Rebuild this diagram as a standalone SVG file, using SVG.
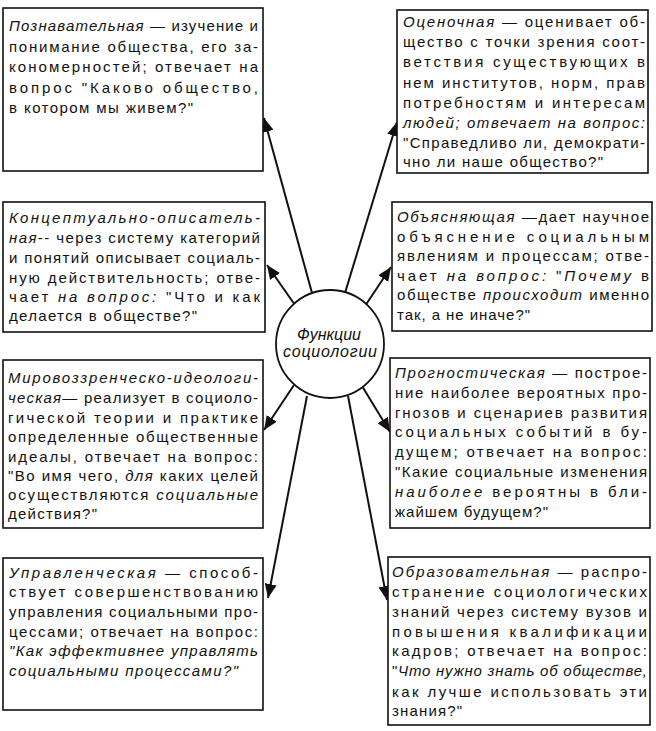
<svg xmlns="http://www.w3.org/2000/svg" width="656" height="731" viewBox="0 0 656 731">
<style>
.box{fill:#fff;stroke:#111;stroke-width:1.6}
.t{font-family:"Liberation Sans",Arial,sans-serif;font-size:15px;fill:#111}
.i{font-style:italic}
.c{font-family:"Liberation Sans",Arial,sans-serif;font-size:16px;font-style:italic;fill:#111;text-anchor:middle}
.arr{stroke:#111;stroke-width:2;fill:none;marker-end:url(#ah)}
</style>
<defs>
<marker id="ah" markerUnits="userSpaceOnUse" markerWidth="16" markerHeight="12" refX="14" refY="6" orient="auto">
<path d="M0,0 L14,6 L0,12 Z" fill="#111"/>
</marker>
</defs>
<rect width="656" height="731" fill="#fff"/>

<g id="connectors">
<line class="arr" x1="312" y1="293" x2="264" y2="118"/>
<line class="arr" x1="345" y1="293" x2="397" y2="122"/>
<line class="arr" x1="295" y1="305" x2="267" y2="265"/>
<line class="arr" x1="365" y1="306" x2="391" y2="267"/>
<line class="arr" x1="294" y1="385" x2="264" y2="430"/>
<line class="arr" x1="362" y1="386" x2="390" y2="432"/>
<line class="arr" x1="307" y1="396" x2="268" y2="598"/>
<line class="arr" x1="348" y1="396" x2="387" y2="600"/>
</g>

<g id="center">
<circle cx="330" cy="344" r="54" fill="#fff" stroke="#111" stroke-width="1.8"/>
<text class="c" x="329" y="340">Функции</text>
<text class="c" x="330" y="357" textLength="94" lengthAdjust="spacing">социологии</text>
</g>

<g id="box1">
<rect class="box" x="3" y="8" width="260" height="163"/>
<text class="t" x="9" y="31" textLength="249"><tspan class="i">Познавательная</tspan> — изучение и</text>
<text class="t" x="9" y="52" textLength="249">понимание общества, его за-</text>
<text class="t" x="9" y="72" textLength="249">кономерностей; отвечает на</text>
<text class="t" x="9" y="93" textLength="249">вопрос "Каково общество,</text>
<text class="t" x="9" y="113" textLength="184">в котором мы живем?"</text>
</g>

<g id="box2">
<rect class="box" x="397" y="10" width="251" height="163"/>
<text class="t" x="403" y="27" textLength="242"><tspan class="i">Оценочная</tspan> — оценивает об-</text>
<text class="t" x="403" y="47" textLength="242">щество с точки зрения соот-</text>
<text class="t" x="403" y="67" textLength="242">ветствия существующих в</text>
<text class="t" x="403" y="88" textLength="242">нем институтов, норм, прав</text>
<text class="t" x="403" y="108" textLength="242">потребностям и интересам</text>
<text class="t i" x="403" y="128" textLength="242">людей; отвечает на вопрос:</text>
<text class="t" x="403" y="148" textLength="242">"Справедливо ли, демократи-</text>
<text class="t" x="403" y="167" textLength="200">чно ли наше общество?"</text>
</g>

<g id="box3">
<rect class="box" x="3" y="202" width="262" height="130"/>
<text class="t i" x="9" y="223" textLength="251">Концептуально-описатель-</text>
<text class="t" x="9" y="243" textLength="251"><tspan class="i">ная</tspan>-- через систему категорий</text>
<text class="t" x="9" y="263" textLength="251">и понятий описывает социаль-</text>
<text class="t" x="9" y="283" textLength="251">ную действительность; отве-</text>
<text class="t" x="9" y="302" textLength="251">чает <tspan class="i">на вопрос:</tspan> "Что и как</text>
<text class="t" x="9" y="321" textLength="188">делается в обществе?"</text>
</g>

<g id="box4">
<rect class="box" x="392" y="202" width="260" height="129"/>
<text class="t" x="397" y="222" textLength="252"><tspan class="i">Объясняющая</tspan> —дает научное</text>
<text class="t" x="397" y="242" textLength="252">объяснение социальным</text>
<text class="t" x="397" y="261" textLength="252">явлениям и процессам; отве-</text>
<text class="t" x="397" y="281" textLength="252">чает <tspan class="i">на вопрос:</tspan> "<tspan class="i">Почему</tspan> в</text>
<text class="t" x="397" y="300" textLength="252">обществе <tspan class="i">происходит</tspan> именно</text>
<text class="t" x="397" y="320" textLength="133">так, а не иначе?"</text>
</g>

<g id="box5">
<rect class="box" x="3" y="360" width="260" height="168"/>
<text class="t i" x="8" y="383" textLength="250">Мировоззренческо-идеологи-</text>
<text class="t" x="8" y="403" textLength="250"><tspan class="i">ческая</tspan>— реализует в социоло-</text>
<text class="t" x="8" y="423" textLength="250">гической теории и практике</text>
<text class="t" x="8" y="442" textLength="250">определенные общественные</text>
<text class="t" x="8" y="462" textLength="250">идеалы, отвечает на вопрос:</text>
<text class="t" x="8" y="481" textLength="250">"Во имя чего, <tspan class="i">для</tspan> каких целей</text>
<text class="t" x="8" y="500" textLength="250">осуществляются <tspan class="i">социальные</tspan></text>
<text class="t" x="8" y="519" textLength="89">действия?"</text>
</g>

<g id="box6">
<rect class="box" x="390" y="358" width="260" height="170"/>
<text class="t" x="395" y="378" textLength="252"><tspan class="i">Прогностическая</tspan> — построе-</text>
<text class="t" x="395" y="398" textLength="252">ние наиболее вероятных про-</text>
<text class="t" x="395" y="418" textLength="252">гнозов и сценариев развития</text>
<text class="t" x="395" y="437" textLength="252">социальных событий в бу-</text>
<text class="t" x="395" y="457" textLength="252">дущем; отвечает на вопрос:</text>
<text class="t" x="395" y="477" textLength="252">"Какие социальные изменения</text>
<text class="t" x="395" y="497" textLength="252"><tspan class="i">наиболее</tspan> вероятны в бли-</text>
<text class="t" x="395" y="517" textLength="153">жайшем будущем?"</text>
</g>

<g id="box7">
<rect class="box" x="3" y="558" width="260" height="152"/>
<text class="t" x="9" y="578" textLength="249"><tspan class="i">Управленческая</tspan> — способ-</text>
<text class="t" x="9" y="597" textLength="249">ствует совершенствованию</text>
<text class="t" x="9" y="617" textLength="249">управления социальными про-</text>
<text class="t" x="9" y="637" textLength="249">цессами; отвечает на вопрос:</text>
<text class="t i" x="9" y="656" textLength="249">"Как эффективнее управлять</text>
<text class="t i" x="9" y="676" textLength="229">социальными процессами?"</text>
</g>

<g id="box8">
<rect class="box" x="388" y="557" width="262" height="168"/>
<text class="t" x="392" y="577" textLength="255"><tspan class="i">Образовательная</tspan> — распро-</text>
<text class="t" x="392" y="597" textLength="255">странение социологических</text>
<text class="t" x="392" y="617" textLength="255">знаний через систему вузов и</text>
<text class="t" x="392" y="637" textLength="255">повышения квалификации</text>
<text class="t" x="392" y="656" textLength="255">кадров; отвечает на вопрос:</text>
<text class="t" x="392" y="676" textLength="255">"<tspan class="i">Что нужно знать об обществе,</tspan></text>
<text class="t" x="392" y="697" textLength="255">как лучше использовать эти</text>
<text class="t" x="392" y="716" textLength="70">знания?"</text>
</g>
</svg>
